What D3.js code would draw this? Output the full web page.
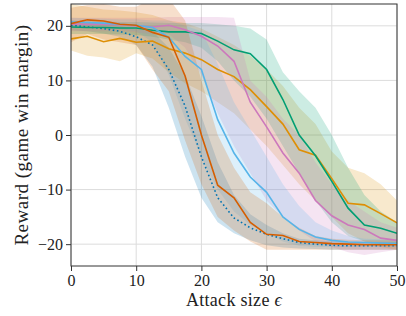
<!DOCTYPE html>
<html>
<head>
<meta charset="utf-8">
<script src="https://cdn.jsdelivr.net/npm/d3@7"></script>
<style>
  body { margin: 0; background: #fff; }
  text { font-family: "Liberation Serif", "Times New Roman", serif; fill: #222; }
</style>
</head>
<body>
<div id="chart"></div>
<script>
const eps = [0, 2.5, 5, 7.5, 10, 12.5, 15, 17.5, 20, 22.5, 25, 27.5, 30, 32.5, 35, 37.5, 40, 42.5, 45, 47.5, 50];

const dottedMean = [20.1, 19.8, 19.5, 19.0, 18.0, 16.5, 12.0, 5.3, -4.0, -11.5, -15.2, -17.0, -18.2, -19.0, -19.7, -20.0, -20.2, -20.3, -20.3, -20.3, -20.3];
const dottedLo = [19.2, 19.0, 18.6, 18.0, 16.5, 12.5, 5.0, -4.0, -11.5, -16.0, -18.0, -19.3, -20.2, -20.6, -20.8, -20.9, -21.0, -21.0, -21.0, -21.0, -21.0];
const dottedHi = [21.0, 20.6, 20.4, 20.0, 19.4, 19.0, 16.0, 11.0, 3.5, -5.0, -11.0, -14.5, -16.5, -18.0, -19.0, -19.3, -19.5, -19.6, -19.6, -19.6, -19.6];

const amberMean = [17.6, 18.1, 17.1, 17.7, 17.0, 17.2, 15.8, 15.0, 13.8, 12.0, 10.7, 8.3, 5.2, 2.0, -2.7, -3.7, -8.0, -12.5, -12.8, -14.4, -16.1];
const amberLo = [15.5, 14.5, 14.2, 13.5, 15.0, 14.0, 11.5, 9.5, 8.0, 6.0, 4.0, 1.0, -2.0, -5.5, -9.0, -12.0, -15.0, -18.0, -19.5, -20.5, -21.0];
const amberHi = [24.0, 23.5, 23.0, 22.8, 22.5, 22.0, 21.0, 20.5, 19.5, 18.0, 16.5, 14.5, 12.0, 9.0, 5.0, 2.0, -3.0, -6.0, -7.0, -9.0, -12.0];

const greenMean = [19.8, 19.7, 19.7, 19.6, 19.6, 19.2, 18.9, 18.9, 18.6, 17.2, 15.6, 14.9, 12.0, 6.5, 0.0, -3.8, -8.5, -13.4, -16.5, -17.1, -18.0];
const greenLo = [18.5, 18.5, 18.5, 18.4, 18.3, 18.0, 17.5, 17.0, 16.0, 13.5, 10.0, 7.0, 3.0, -2.0, -7.0, -12.0, -16.0, -18.5, -19.5, -20.0, -20.0];
const greenHi = [21.0, 20.9, 20.8, 20.7, 20.7, 20.6, 20.5, 20.5, 20.5, 20.3, 20.0, 19.5, 17.5, 11.5, 8.0, 5.0, 0.0, -6.0, -11.0, -14.0, -16.0];

const pinkMean = [20.3, 20.3, 20.3, 20.2, 20.0, 19.8, 20.1, 19.3, 18.1, 16.3, 13.5, 6.0, 1.5, -3.3, -7.0, -12.0, -14.8, -16.5, -17.3, -18.9, -19.3];
const pinkLo = [19.0, 19.0, 19.0, 19.0, 18.8, 18.5, 18.5, 16.0, 11.0, 4.0, -2.0, -7.0, -12.0, -15.0, -17.5, -19.5, -20.5, -21.5, -22.0, -21.5, -21.0];
const pinkHi = [21.5, 21.5, 21.5, 21.5, 21.5, 21.5, 21.6, 21.6, 21.6, 21.6, 21.5, 10.0, 7.0, 3.0, 0.0, -5.0, -9.0, -12.0, -14.0, -16.0, -17.0];

const skyMean = [20.7, 20.6, 20.5, 20.3, 20.1, 19.7, 17.9, 14.4, 12.0, 2.8, -3.3, -7.7, -10.5, -15.0, -17.3, -18.7, -19.3, -19.6, -19.7, -19.8, -19.9];
const skyLo = [19.8, 19.7, 19.6, 19.4, 19.0, 17.0, 11.0, 3.0, -4.0, -10.0, -14.0, -16.5, -18.0, -19.5, -20.3, -20.5, -20.5, -20.5, -20.5, -20.5, -20.5];
const skyHi = [21.5, 21.4, 21.3, 21.2, 21.2, 21.0, 21.0, 20.0, 19.0, 13.0, 6.0, 1.0, -4.0, -9.0, -13.0, -16.0, -17.5, -18.5, -19.0, -19.1, -19.2];

const redMean = [20.4, 21.1, 20.9, 20.3, 20.1, 18.8, 17.9, 10.8, 0.0, -9.2, -11.5, -16.0, -18.2, -18.4, -19.5, -19.7, -19.9, -20.0, -20.1, -20.1, -20.1];
const redLo = [17.0, 18.5, 17.5, 17.0, 16.5, 12.0, 8.0, -1.0, -9.0, -15.0, -17.5, -19.5, -21.0, -21.0, -21.0, -21.0, -21.0, -21.0, -21.0, -21.0, -21.0];
const redHi = [23.3, 23.8, 24.0, 23.5, 23.5, 25.0, 25.0, 21.0, 10.0, 0.0, -6.0, -10.5, -12.5, -15.0, -17.0, -18.5, -19.0, -19.2, -19.3, -19.3, -19.3];

const xTicks = [0, 10, 20, 30, 40, 50];
const yTicks = [-20, -10, 0, 10, 20];

const series = [
    { mean: dottedMean, lo: dottedLo, hi: dottedHi, colour: "#0173B2", dotted: true },
    { mean: amberMean, lo: amberLo, hi: amberHi, colour: "#DE8F05" },
    { mean: greenMean, lo: greenLo, hi: greenHi, colour: "#029E73" },
    { mean: pinkMean, lo: pinkLo, hi: pinkHi, colour: "#CC78BC" },
    { mean: skyMean, lo: skyLo, hi: skyHi, colour: "#56B4E9" },
    { mean: redMean, lo: redLo, hi: redHi, colour: "#D55E00" }
];

const margin = { top: 4, right: 9, bottom: 50, left: 71 },
    width = 406 - margin.left - margin.right,
    height = 316 - margin.top - margin.bottom;

const svg = d3.select("#chart")
    .append("svg")
        .attr("width", 406)
        .attr("height", 316)
    .append("g")
        .attr("transform", `translate(${margin.left},${margin.top})`);

const x = d3.scaleLinear().domain([0, 50]).range([0, width]);
const y = d3.scaleLinear().domain([-24, 24]).range([height, 0]);

svg.append("clipPath").attr("id", "plot")
    .append("rect").attr("width", width).attr("height", height);

// grid
svg.append("g")
    .selectAll("line")
    .data(xTicks)
    .join("line")
        .attr("x1", d => x(d)).attr("x2", d => x(d))
        .attr("y1", 0).attr("y2", height)
        .attr("stroke", "#dcdcdc").attr("stroke-width", 1);

svg.append("g")
    .selectAll("line")
    .data(yTicks)
    .join("line")
        .attr("x1", 0).attr("x2", width)
        .attr("y1", d => y(d)).attr("y2", d => y(d))
        .attr("stroke", "#dcdcdc").attr("stroke-width", 1);

const area = d3.area()
    .x(d => x(d.e))
    .y0(d => y(d.lo))
    .y1(d => y(d.hi));

const line = d3.line()
    .x(d => x(d.e))
    .y(d => y(d.v));

const plot = svg.append("g").attr("clip-path", "url(#plot)");

series.forEach(s => {
    plot.append("path")
        .datum(eps.map((e, i) => ({ e, lo: s.lo[i], hi: s.hi[i] })))
        .attr("fill", s.colour)
        .attr("fill-opacity", 0.2)
        .attr("d", area);
});

series.forEach(s => {
    plot.append("path")
        .datum(eps.map((e, i) => ({ e, v: s.mean[i] })))
        .attr("fill", "none")
        .attr("stroke", s.colour)
        .attr("stroke-width", 1.6)
        .attr("stroke-dasharray", s.dotted ? "1.6,2.6" : null)
        .attr("d", line);
});

// frame
svg.append("rect")
    .attr("width", width).attr("height", height)
    .attr("fill", "none")
    .attr("stroke", "#333")
    .attr("stroke-width", 1);

const xAxisGroup = svg.append("g")
    .attr("transform", `translate(0,${height})`)
    .call(d3.axisBottom(x).tickValues(xTicks).tickSize(5).tickPadding(4).tickFormat(d3.format("d")));

const yAxisGroup = svg.append("g")
    .call(d3.axisLeft(y).tickValues(yTicks).tickSize(5).tickPadding(3).tickFormat(d => d < 0 ? "\u2212" + Math.abs(d) : d));

[xAxisGroup, yAxisGroup].forEach(g => {
    g.select(".domain").remove();
    g.selectAll("line").style("stroke", "#333");
    g.selectAll("text")
        .style("font-family", "'Liberation Serif', serif")
        .style("font-size", "16px")
        .style("fill", "#222");
});

svg.append("text")
    .attr("x", width / 2)
    .attr("y", height + 40)
    .attr("text-anchor", "middle")
    .style("font-size", "18px")
    .style("letter-spacing", "0.3px")
    .html("Attack size <tspan font-style='italic'>\u03F5</tspan>");

svg.append("text")
    .attr("transform", "rotate(-90)")
    .attr("x", -height / 2)
    .attr("y", -43)
    .attr("text-anchor", "middle")
    .style("font-size", "19px")
    .style("letter-spacing", "0.5px")
    .text("Reward (game win margin)");
</script>
</body>
</html>
